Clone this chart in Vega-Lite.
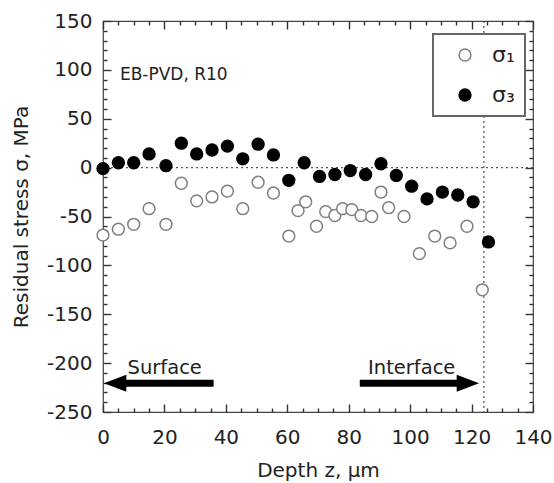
{
  "$schema": "https://vega.github.io/schema/vega-lite/v6.json",
  "width": 430,
  "height": 391,
  "autosize": "none",
  "padding": {"left": 103, "top": 21, "right": 21, "bottom": 71},
  "config": {
    "font": "DejaVu Sans",
    "view": {"stroke": "#444", "strokeWidth": 1.2},
    "axis": {
      "grid": false,
      "domain": false,
      "ticks": true,
      "tickColor": "#333",
      "tickWidth": 1.4,
      "tickOpacity": 1,
      "labelColor": "#222",
      "labelFontSize": 20,
      "labelFont": "DejaVu Sans",
      "labelFlush": false,
      "titleFont": "DejaVu Sans",
      "titleFontSize": 20,
      "titleFontWeight": "normal",
      "titleColor": "#222"
    },
    "legend": {
      "orient": "none",
      "legendX": 330,
      "legendY": 13,
      "fillColor": "white",
      "strokeColor": "#666",
      "strokeWidth": 2,
      "padding": 10,
      "rowPadding": 18,
      "symbolSize": 140,
      "symbolOffset": 11,
      "symbolStrokeWidth": 1.5,
      "labelFontSize": 22,
      "labelColor": "#222",
      "labelOffset": 16,
      "labelFont": "DejaVu Sans"
    }
  },
  "datasets": {
    "pts": [
      {"z": 0, "s": -69, "c": "σ₁"}, {"z": 5, "s": -63, "c": "σ₁"}, {"z": 10, "s": -58, "c": "σ₁"},
      {"z": 15, "s": -42, "c": "σ₁"}, {"z": 20.5, "s": -58, "c": "σ₁"}, {"z": 25.5, "s": -16, "c": "σ₁"},
      {"z": 30.5, "s": -34, "c": "σ₁"}, {"z": 35.5, "s": -30, "c": "σ₁"}, {"z": 40.5, "s": -24, "c": "σ₁"},
      {"z": 45.5, "s": -42, "c": "σ₁"}, {"z": 50.5, "s": -15, "c": "σ₁"}, {"z": 55.5, "s": -26, "c": "σ₁"},
      {"z": 60.5, "s": -70, "c": "σ₁"}, {"z": 63.5, "s": -44, "c": "σ₁"}, {"z": 66, "s": -35, "c": "σ₁"},
      {"z": 69.5, "s": -60, "c": "σ₁"}, {"z": 72.5, "s": -45, "c": "σ₁"}, {"z": 75.5, "s": -49, "c": "σ₁"},
      {"z": 78, "s": -42, "c": "σ₁"}, {"z": 81, "s": -43, "c": "σ₁"}, {"z": 84, "s": -49, "c": "σ₁"},
      {"z": 87.5, "s": -50, "c": "σ₁"}, {"z": 90.5, "s": -25, "c": "σ₁"}, {"z": 93, "s": -41, "c": "σ₁"},
      {"z": 98, "s": -50, "c": "σ₁"}, {"z": 103, "s": -88, "c": "σ₁"}, {"z": 108, "s": -70, "c": "σ₁"},
      {"z": 113, "s": -77, "c": "σ₁"}, {"z": 118.5, "s": -60, "c": "σ₁"}, {"z": 123.5, "s": -125, "c": "σ₁"},
      {"z": 0, "s": -1, "c": "σ₃"}, {"z": 5, "s": 5, "c": "σ₃"}, {"z": 10, "s": 5, "c": "σ₃"},
      {"z": 15, "s": 14, "c": "σ₃"}, {"z": 20.5, "s": 2, "c": "σ₃"}, {"z": 25.5, "s": 25, "c": "σ₃"},
      {"z": 30.5, "s": 14, "c": "σ₃"}, {"z": 35.5, "s": 18, "c": "σ₃"}, {"z": 40.5, "s": 22, "c": "σ₃"},
      {"z": 45.5, "s": 9, "c": "σ₃"}, {"z": 50.5, "s": 24, "c": "σ₃"}, {"z": 55.5, "s": 13, "c": "σ₃"},
      {"z": 60.5, "s": -13, "c": "σ₃"}, {"z": 65.5, "s": 5, "c": "σ₃"}, {"z": 70.5, "s": -9, "c": "σ₃"},
      {"z": 75.5, "s": -7, "c": "σ₃"}, {"z": 80.5, "s": -3, "c": "σ₃"}, {"z": 85.5, "s": -7, "c": "σ₃"},
      {"z": 90.5, "s": 4, "c": "σ₃"}, {"z": 95.5, "s": -8, "c": "σ₃"}, {"z": 100.5, "s": -19, "c": "σ₃"},
      {"z": 105.5, "s": -32, "c": "σ₃"}, {"z": 110.5, "s": -25, "c": "σ₃"}, {"z": 115.5, "s": -28, "c": "σ₃"},
      {"z": 120.5, "s": -35, "c": "σ₃"}, {"z": 125.5, "s": -76, "c": "σ₃"}
    ],
    "shafts": [
      {"z": 7, "z2": 36, "s": -220.5},
      {"z": 83.6, "z2": 115.5, "s": -220.5}
    ],
    "heads": [
      {"z": 3.95, "s": -220.5, "dir": "left"},
      {"z": 118.8, "s": -220.5, "dir": "right"}
    ],
    "note": [
      {"z": 5.5, "s": 95, "t": "EB-PVD, R10"}
    ],
    "labels": [
      {"z": 8, "s": -205, "t": "Surface"},
      {"z": 86.3, "s": -205, "t": "Interface"}
    ]
  },
  "layer": [
    {
      "data": {"values": [{"s": 0}]},
      "mark": {"type": "rule", "color": "#555", "strokeDash": [2, 3], "strokeWidth": 1.2},
      "encoding": {
        "y": {
          "field": "s", "type": "quantitative",
          "scale": {"domain": [-250, 150], "nice": false, "zero": false},
          "axis": {
            "orient": "right", "title": null, "labels": false, "ticks": true,
            "values": [-250, -200, -150, -100, -50, 0, 50, 100, 150],
            "tickSize": 8, "offset": -8
          }
        }
      }
    },
    {
      "data": {"values": [{"z": 124}]},
      "mark": {"type": "rule", "color": "#555", "strokeDash": [2, 3], "strokeWidth": 1.2},
      "encoding": {
        "x": {
          "field": "z", "type": "quantitative",
          "scale": {"domain": [0, 140], "nice": false},
          "axis": {
            "orient": "top", "title": null, "labels": false, "ticks": true,
            "values": [0, 20, 40, 60, 80, 100, 120, 140],
            "tickSize": 8, "offset": -8
          }
        }
      }
    },
    {
      "data": {"name": "pts"},
      "mark": {"type": "point", "shape": "circle", "size": 140, "strokeWidth": 1.5, "opacity": 1},
      "encoding": {
        "x": {
          "field": "z", "type": "quantitative",
          "scale": {"domain": [0, 140], "nice": false},
          "axis": {
            "orient": "bottom", "title": "Depth z, μm", "titlePadding": 13, "ticks": true,
            "values": [0, 20, 40, 60, 80, 100, 120, 140],
            "labelPadding": 15,
            "tickSize": 8, "offset": -8
          }
        },
        "y": {
          "field": "s", "type": "quantitative",
          "scale": {"domain": [-250, 150], "nice": false, "zero": false},
          "axis": {
            "orient": "left", "title": "Residual stress σ, MPa", "titlePadding": 15, "ticks": true,
            "values": [-250, -200, -150, -100, -50, 0, 50, 100, 150],
            "labelExpr": "'' + datum.value",
            "labelPadding": 11,
            "tickSize": 8, "offset": -8
          }
        },
        "fill": {
          "field": "c", "type": "nominal",
          "scale": {"domain": ["σ₁", "σ₃"], "range": ["white", "black"]},
          "legend": {"title": null}
        },
        "stroke": {
          "field": "c", "type": "nominal",
          "scale": {"domain": ["σ₁", "σ₃"], "range": ["#808080", "black"]},
          "legend": {"title": null}
        }
      }
    },
    {
      "data": {"name": "shafts"},
      "mark": {"type": "rule", "color": "black", "strokeWidth": 7},
      "encoding": {
        "x": {
          "field": "z", "type": "quantitative", "scale": {"domain": [0, 140], "nice": false},
          "axis": {
            "orient": "bottom", "title": null, "labels": false, "ticks": true,
            "values": [5,10,15,25,30,35,45,50,55,65,70,75,85,90,95,105,110,115,125,130,135],
            "tickSize": 4, "offset": -4
          }
        },
        "x2": {"field": "z2"},
        "y": {
          "field": "s", "type": "quantitative", "scale": {"domain": [-250, 150], "nice": false, "zero": false},
          "axis": {
            "orient": "left", "title": null, "labels": false, "ticks": true,
            "values": [-240,-230,-220,-210,-190,-180,-170,-160,-140,-130,-120,-110,-90,-80,-70,-60,-40,-30,-20,-10,10,20,30,40,60,70,80,90,110,120,130,140],
            "tickSize": 4, "offset": -4
          }
        }
      }
    },
    {
      "data": {"name": "heads"},
      "mark": {"type": "point", "filled": true, "color": "black", "size": 500, "opacity": 1},
      "encoding": {
        "x": {
          "field": "z", "type": "quantitative", "scale": {"domain": [0, 140], "nice": false},
          "axis": {
            "orient": "top", "title": null, "labels": false, "ticks": true,
            "values": [5,10,15,25,30,35,45,50,55,65,70,75,85,90,95,105,110,115,125,130,135],
            "tickSize": 4, "offset": -4
          }
        },
        "y": {
          "field": "s", "type": "quantitative", "scale": {"domain": [-250, 150], "nice": false, "zero": false},
          "axis": {
            "orient": "right", "title": null, "labels": false, "ticks": true,
            "values": [-240,-230,-220,-210,-190,-180,-170,-160,-140,-130,-120,-110,-90,-80,-70,-60,-40,-30,-20,-10,10,20,30,40,60,70,80,90,110,120,130,140],
            "tickSize": 4, "offset": -4
          }
        },
        "shape": {
          "field": "dir", "type": "nominal",
          "scale": {"domain": ["left", "right"], "range": ["M-1,0L1,-0.76L1,0.76Z", "M1,0L-1,-0.76L-1,0.76Z"]},
          "legend": null
        }
      }
    },
    {
      "data": {"name": "note"},
      "mark": {"type": "text", "align": "left", "baseline": "middle", "fontSize": 17, "color": "#222", "font": "DejaVu Sans"},
      "encoding": {
        "x": {"field": "z", "type": "quantitative", "scale": {"domain": [0, 140], "nice": false}, "axis": null},
        "y": {"field": "s", "type": "quantitative", "scale": {"domain": [-250, 150], "nice": false, "zero": false}, "axis": null},
        "text": {"field": "t"}
      }
    },
    {
      "data": {"name": "labels"},
      "mark": {"type": "text", "align": "left", "baseline": "middle", "fontSize": 19.5, "color": "#222", "font": "DejaVu Sans"},
      "encoding": {
        "x": {"field": "z", "type": "quantitative", "scale": {"domain": [0, 140], "nice": false}, "axis": null},
        "y": {"field": "s", "type": "quantitative", "scale": {"domain": [-250, 150], "nice": false, "zero": false}, "axis": null},
        "text": {"field": "t"}
      }
    }
  ],
  "resolve": {"axis": {"x": "independent", "y": "independent"}}
}
